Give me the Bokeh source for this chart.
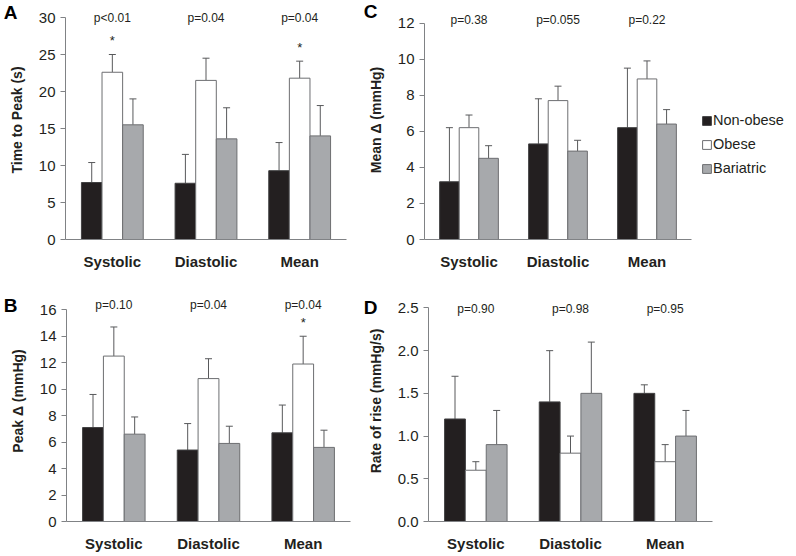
from bokeh.plotting import figure
from bokeh.layouts import column, row
from bokeh.models import (ColumnDataSource, Range1d, Whisker, TeeHead, Label,
                          Legend, LegendItem, FixedTicker, PrintfTickFormatter, LinearAxis,
                          CustomJSTickFormatter)
from bokeh.embed import file_html
from bokeh.resources import INLINE

# ---------------- data ----------------
categories = ["Systolic", "Diastolic", "Mean"]
groups = ["Non-obese", "Obese", "Bariatric"]

# A: Time to Peak (s)
a_nonobese = [7.7, 7.6, 9.3]
a_nonobese_err = [2.7, 3.9, 3.8]
a_obese = [22.6, 21.5, 21.8]
a_obese_err = [2.4, 3.0, 2.3]
a_bariatric = [15.5, 13.6, 14.0]
a_bariatric_err = [3.5, 4.2, 4.1]
a_pvalues = ["p<0.01", "p=0.04", "p=0.04"]
a_stars = [True, False, True]

# B: Peak delta (mmHg)
b_nonobese = [7.1, 5.4, 6.7]
b_nonobese_err = [2.5, 2.0, 2.1]
b_obese = [12.5, 10.8, 11.9]
b_obese_err = [2.2, 1.5, 2.1]
b_bariatric = [6.6, 5.9, 5.6]
b_bariatric_err = [1.3, 1.3, 1.3]
b_pvalues = ["p=0.10", "p=0.04", "p=0.04"]
b_stars = [False, False, True]

# C: Mean delta (mmHg)
c_nonobese = [3.2, 5.3, 6.2]
c_nonobese_err = [3.0, 2.5, 3.3]
c_obese = [6.2, 7.7, 8.9]
c_obese_err = [0.7, 0.8, 1.0]
c_bariatric = [4.5, 4.9, 6.4]
c_bariatric_err = [0.7, 0.6, 0.8]
c_pvalues = ["p=0.38", "p=0.055", "p=0.22"]
c_stars = [False, False, False]

# D: Rate of rise (mmHg/s)
d_nonobese = [1.2, 1.4, 1.5]
d_nonobese_err = [0.5, 0.6, 0.1]
d_obese = [0.6, 0.8, 0.7]
d_obese_err = [0.1, 0.2, 0.2]
d_bariatric = [0.9, 1.5, 1.0]
d_bariatric_err = [0.4, 0.6, 0.3]
d_pvalues = ["p=0.90", "p=0.98", "p=0.95"]
d_stars = [False, False, False]

a_ticks = [0, 5, 10, 15, 20, 25, 30]
b_ticks = [0, 2, 4, 6, 8, 10, 12, 14, 16]
c_ticks = [0, 2, 4, 6, 8, 10, 12]
d_ticks = [0.0, 0.5, 1.0, 1.5, 2.0, 2.5]

# ---------------- style ----------------
FONT = "Liberation Sans"
TXT = "#231f20"
AXIS = "#808285"
ECOL = "#58595b"
fills = ["#231f20", "#ffffff", "#a7a9ac"]
outlines = ["#414042", "#6d6e71", "#6d6e71"]
BAR_W = 0.22


def panel(fig_box, frame_box, axis_right, ymax_page, ymax, ticks, fmt, ylabel, series, errs,
          pvals, stars, letter, letter_y, letter_standoff, p_y, legend_pos=None):
    # fig_box: (left, top, width, height) on the page; frame_box: (L, T, R, B) on the page
    fx, fy, fw, fh = fig_box
    L, T, R, B = frame_box
    n = len(categories)
    xscale = (axis_right - L) / n            # px per category
    xend = (R - L) / xscale
    yscale = (B - ymax_page) / ymax          # px per unit
    yend = ymax + (ymax_page - T) / yscale
    p = figure(width=fw, height=fh,
               x_range=Range1d(0, xend), y_range=Range1d(0, yend),
               output_backend="svg", toolbar_location=None,
               min_border_left=L - fx, min_border_right=fx + fw - R,
               min_border_top=T - fy, min_border_bottom=fy + fh - B)
    p.outline_line_color = None
    p.xgrid.visible = False
    p.ygrid.visible = False

    def yd(py):
        return (B - py) / yscale

    centers = [i + 0.5 for i in range(n)]
    data = dict(c=centers)
    for g in range(3):
        data[f"x{g}"] = [c + (g - 1) * BAR_W for c in centers]
        data[f"v{g}"] = series[g]
        data[f"t{g}"] = [v + e for v, e in zip(series[g], errs[g])]
    src = ColumnDataSource(data)

    renderers = []
    for g in range(3):
        r = p.vbar(x=f"x{g}", top=f"v{g}", width=BAR_W, fill_color=fills[g],
                   line_color=outlines[g], line_width=1, source=src)
        renderers.append(r)
        w = Whisker(source=src, base=f"x{g}", lower=f"v{g}", upper=f"t{g}", lower_head=None,
                    upper_head=TeeHead(size=7, line_color=ECOL, line_width=1),
                    line_color=ECOL, line_width=1)
        p.add_layout(w)

    # y axis
    yax = p.yaxis[0]
    yax.bounds = (0, ymax)
    yax.ticker = FixedTicker(ticks=ticks)
    if fmt:
        yax.formatter = PrintfTickFormatter(format=fmt)
    yax.axis_label = ylabel
    yax.axis_label_text_font = FONT
    yax.axis_label_text_font_style = "bold"
    yax.axis_label_text_font_size = "14px"
    yax.axis_label_text_color = TXT
    yax.axis_label_standoff = 11
    yax.major_label_text_font = FONT
    yax.major_label_text_font_size = "15px"
    yax.major_label_text_color = TXT
    yax.major_label_standoff = 5
    yax.axis_line_color = AXIS
    yax.major_tick_line_color = AXIS
    yax.major_tick_out = 5
    yax.major_tick_in = 0
    yax.minor_tick_line_color = None

    # x axis (category names at the group centres)
    xax = p.xaxis[0]
    xax.bounds = (0, n)
    xax.ticker = FixedTicker(ticks=centers)
    xax.formatter = CustomJSTickFormatter(args=dict(cats=categories),
                                          code="return cats[Math.floor(tick)]")
    xax.axis_line_color = AXIS
    xax.major_tick_line_color = None
    xax.minor_tick_line_color = None
    xax.major_label_text_font = FONT
    xax.major_label_text_font_style = "bold"
    xax.major_label_text_font_size = "15px"
    xax.major_label_text_color = TXT
    xax.major_label_standoff = 7

    # panel letter: the single tick label of a bare outer axis
    lax = LinearAxis(ticker=FixedTicker(ticks=[yd(letter_y)]),
                     formatter=CustomJSTickFormatter(code="return '%s'" % letter),
                     axis_line_color=None, major_tick_line_color=None,
                     minor_tick_line_color=None, major_tick_out=0, major_tick_in=0,
                     major_label_standoff=int(letter_standoff),
                     major_label_text_font=FONT, major_label_text_font_style="bold",
                     major_label_text_font_size="19px", major_label_text_color="#000000")
    p.add_layout(lax, "left")

    # p-values
    for i, t in enumerate(pvals):
        p.add_layout(Label(x=centers[i], y=yd(p_y), text=t, text_align="center",
                           text_baseline="middle", text_font=FONT,
                           text_font_size="12px", text_color=TXT))
    # stars
    for i, s in enumerate(stars):
        if s:
            p.add_layout(Label(x=centers[i], y=data["t1"][i], y_offset=14, text="*",
                               text_align="center", text_baseline="middle",
                               text_font=FONT, text_font_size="13px", text_color=TXT))

    if legend_pos is not None:
        lx, ly = legend_pos
        items = [LegendItem(label=g, renderers=[r]) for g, r in zip(groups, renderers)]
        leg = Legend(items=items, location=(lx, ly),
                     orientation="vertical", border_line_color=None,
                     background_fill_alpha=0, padding=0, margin=0, spacing=6,
                     glyph_width=11, glyph_height=11, label_height=18,
                     label_standoff=1, label_text_font=FONT,
                     label_text_font_size="14.5px", label_text_color=TXT)
        p.add_layout(leg)
    return p


pA = panel((0, 0, 360, 280), (61, 0, 346, 239), 346, 17, 30, a_ticks, None, "Time to Peak (s)",
           [a_nonobese, a_obese, a_bariatric], [a_nonobese_err, a_obese_err, a_bariatric_err],
           a_pvalues, a_stars, "A", 12, -12, 17)
pC = panel((360, 0, 436, 280), (424, 0, 796, 244), 691, 23, 12, c_ticks, None, "Mean \u0394 (mmHg)",
           [c_nonobese, c_obese, c_bariatric], [c_nonobese_err, c_obese_err, c_bariatric_err],
           c_pvalues, c_stars, "C", 11, -13, 19.5, legend_pos=(277, 62))
pB = panel((0, 280, 360, 274), (66, 280, 350, 527), 350, 310, 16, b_ticks, None, "Peak \u0394 (mmHg)",
           [b_nonobese, b_obese, b_bariatric], [b_nonobese_err, b_obese_err, b_bariatric_err],
           b_pvalues, b_stars, "B", 305.5, -11, 305)
pD = panel((360, 280, 436, 274), (428, 280, 796, 526), 712, 308, 2.5, d_ticks, "%.1f",
           "Rate of rise (mmHg/s)",
           [d_nonobese, d_obese, d_bariatric], [d_nonobese_err, d_obese_err, d_bariatric_err],
           d_pvalues, d_stars, "D", 308, -13, 309)

layout = column(row(pA, pC, spacing=0), row(pB, pD, spacing=0), spacing=0)
open("out.html", "w").write(file_html(layout, INLINE))
